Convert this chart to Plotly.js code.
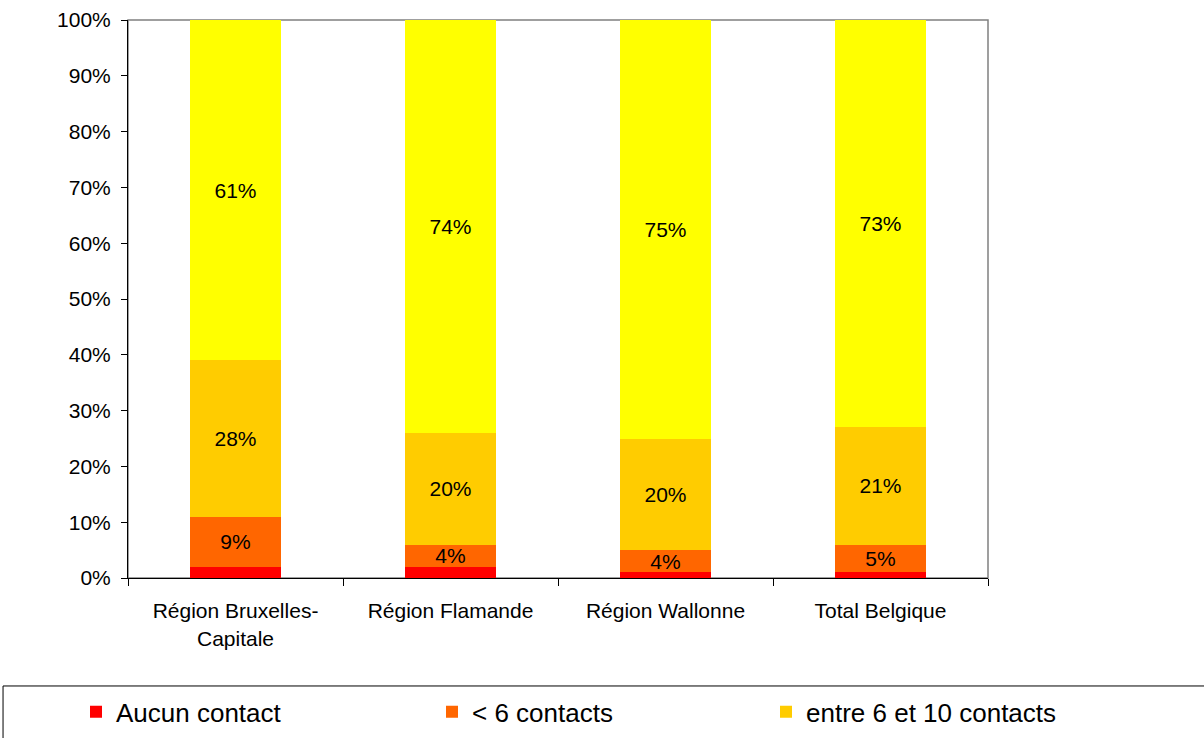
<!DOCTYPE html>
<html>
<head>
<meta charset="utf-8">
<script src="https://cdn.plot.ly/plotly-3.0.1.min.js"></script>
<style>html,body{margin:0;padding:0;background:#fff;}#chart{width:1204px;height:738px;}</style>
</head>
<body>
<div id="chart"></div>
<script>
var categories = ["Région Bruxelles-<br>Capitale", "Région Flamande", "Région Wallonne", "Total Belgique"];
var aucunContact = [2, 2, 1, 1];
var moinsDe6 = [9, 4, 4, 5];
var entre6et10 = [28, 20, 20, 21];
var plusDe10 = [61, 74, 75, 73];
var seriesNames = ["Aucun contact", "< 6 contacts", "entre 6 et 10 contacts", "> 10 contacts"];
var yTickVals = [0, 10, 20, 30, 40, 50, 60, 70, 80, 90, 100];
var yTickText = yTickVals.map(function (v) { return v + "%"; });

var FONT = "Liberation Sans, Arial, sans-serif";
function bar(y, name, color, showText, legendId) {
  var t = {
    type: "bar", x: categories, y: y, name: name,
    marker: {color: color, line: {width: 0}},
    text: y.map(function (v) { return v + "%"; }),
    texttemplate: showText ? "%{text}" : "",
    textposition: showText ? "inside" : "none",
    insidetextanchor: "middle",
    constraintext: "none",
    textfont: {family: FONT, size: 21, color: "#000"},
    hoverinfo: "skip",
    showlegend: !!legendId
  };
  if (legendId) t.legend = legendId;
  return t;
}
var data = [
  bar(aucunContact, seriesNames[0], "#FF0000", false, "legend"),
  bar(moinsDe6, seriesNames[1], "#FF6600", true, "legend2"),
  bar(entre6et10, seriesNames[2], "#FFCC00", true, "legend3"),
  bar(plusDe10, seriesNames[3], "#FFFF00", true, null)
];
function leg(px) {
  return {
    orientation: "h", xref: "paper", yref: "paper",
    x: (px - 128) / 860, xanchor: "left", y: -0.240, yanchor: "middle",
    font: {family: FONT, size: 26, color: "#000"},
    bgcolor: "rgba(0,0,0,0)", borderwidth: 0
  };
}
var layout = {
  width: 1204, height: 738,
  margin: {l: 128, r: 216, t: 20, b: 160, autoexpand: false},
  paper_bgcolor: "#fff", plot_bgcolor: "#fff",
  barmode: "stack", bargap: 0.58,
  font: {family: FONT, size: 21, color: "#000"},
  xaxis: {
    showline: true, linecolor: "#000", linewidth: 1,
    ticks: "outside", tickson: "boundaries", ticklen: 7, tickcolor: "#000",
    ticklabelstandoff: 14,
    tickfont: {family: FONT, size: 21, color: "#000"},
    showgrid: false, zeroline: false, fixedrange: true
  },
  yaxis: {
    range: [0, 100], tickmode: "array", tickvals: yTickVals, ticktext: yTickText,
    showline: true, linecolor: "#000", linewidth: 1,
    ticks: "outside", ticklen: 6, tickcolor: "#000",
    ticklabelstandoff: 6,
    tickfont: {family: FONT, size: 21, color: "#000"},
    showgrid: false, zeroline: false, fixedrange: true
  },
  shapes: [
    {type: "rect", xref: "paper", yref: "paper", x0: 0, x1: 1, y0: 0, y1: 1,
     line: {color: "#808080", width: 1.5}, layer: "below"},
    {type: "rect", xref: "paper", yref: "paper", x0: -0.1453, x1: 1.5, y0: -0.1935, y1: -0.6,
     line: {color: "#000", width: 1}, fillcolor: "rgba(0,0,0,0)", layer: "below"}
  ],
  legend: leg(76),
  legend2: leg(432),
  legend3: leg(766),
  showlegend: true
};
Plotly.newPlot("chart", data, layout, {displayModeBar: false, staticPlot: true});
</script>
</body>
</html>
